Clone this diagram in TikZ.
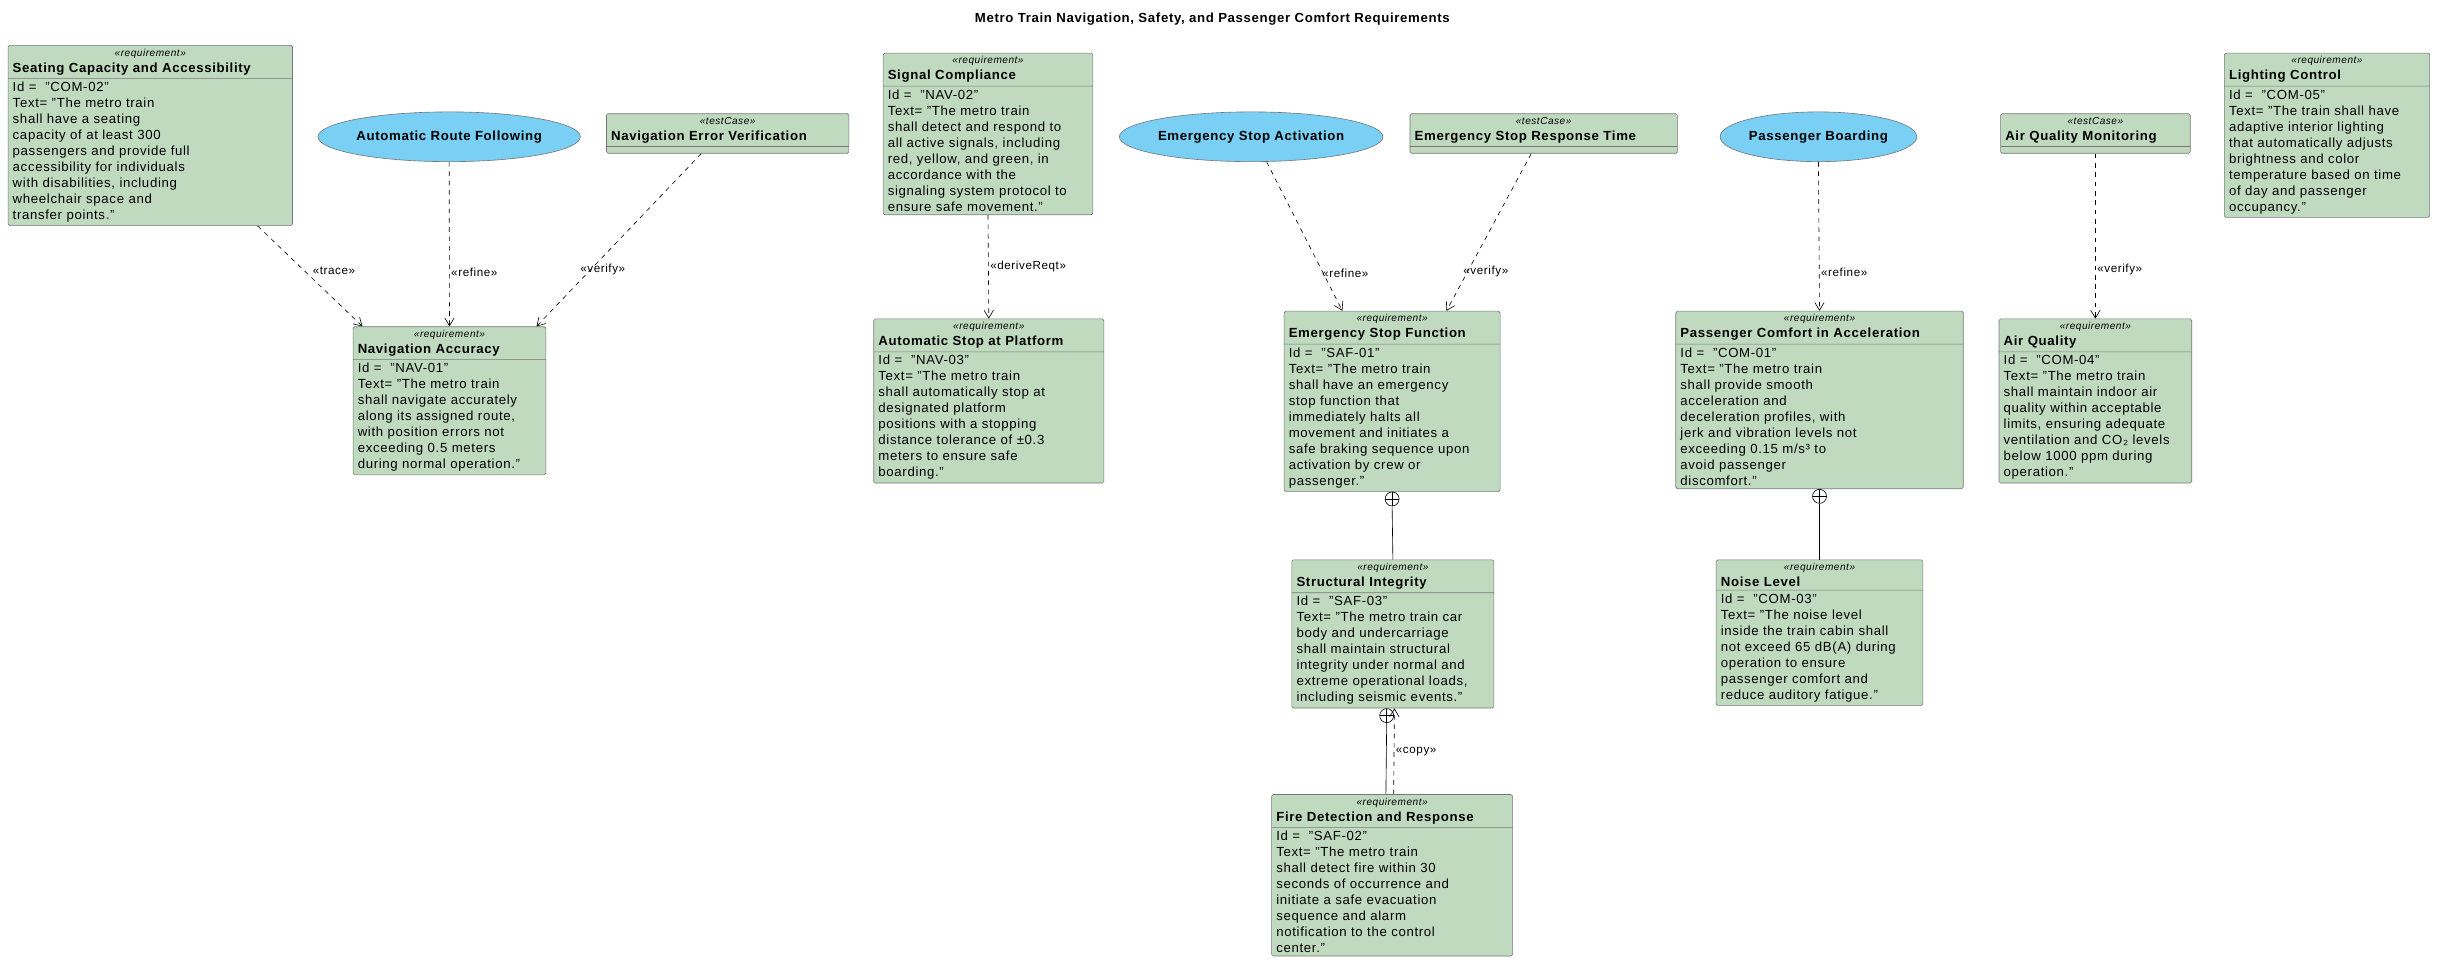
\documentclass[tikz,border=0pt]{standalone}
\usepackage{fontspec}
\setmainfont{Liberation Sans}[LetterSpace=5]
\usetikzlibrary{shapes.multipart,shapes.geometric,arrows.meta}
\definecolor{reqfill}{RGB}{192,218,192}
\definecolor{ucfill}{RGB}{122,207,245}
\definecolor{edge}{RGB}{120,120,120}
\newcommand{\stereo}[1]{{\fontsize{6.5}{7.5}\selectfont\itshape\guillemotleft#1\guillemotright}\par}
\newcommand{\rtitle}[1]{{\fontsize{8.5}{10}\selectfont\bfseries#1}}
\tikzset{
  req/.style={rectangle split, rectangle split parts=2, draw=edge, fill=reqfill,
    rounded corners=1pt, anchor=north west, inner xsep=3pt, inner ysep=2pt,
    text width=#1, font=\fontsize{8.5}{10.3}\selectfont, align=left},
  test/.style={req=#1, rectangle split ignore empty parts=false,
    rectangle split empty part height=9pt},
  uc/.style={ellipse, draw=edge, fill=ucfill, minimum width=#1, minimum height=32pt,
    inner sep=0pt, font=\fontsize{8.5}{10}\selectfont\bfseries},
  rel/.style={draw, dashed, dash pattern=on 3pt off 3pt, -{Straight Barb[length=5pt,width=6pt]}},
  lbl/.style={font=\fontsize{7.5}{9}\selectfont, right, inner sep=1pt},
  plus/.style={circle, draw, fill=white, minimum size=9pt, inner sep=0pt,
    path picture={\draw (path picture bounding box.north) -- (path picture bounding box.south)
      (path picture bounding box.west) -- (path picture bounding box.east);}}
}
\begin{document}
\begin{tikzpicture}[x=1pt, y=-1pt]
\useasboundingbox (0,0) rectangle (1568,626);
\node[font=\fontsize{8.5}{10}\selectfont\bfseries] (title) at (780,12) {Metro Train Navigation, Safety, and Passenger Comfort Requirements};

% navigation
\node[req=177pt] (seat) at (5,29) {\centering\stereo{requirement}\rtitle{Seating Capacity and Accessibility}
  \nodepart{two}Id = \ "COM-02"\\Text= "The metro train\\shall have a seating\\capacity of at least 300\\passengers and provide full\\accessibility for individuals\\with disabilities, including\\wheelchair space and\\transfer points."};
\node[uc=158pt] (route) at (289,88) {Automatic Route Following};
\node[test=150pt] (navver) at (390,73) {\centering\stereo{testCase}\rtitle{Navigation Error Verification}\nodepart{two}};
\node[req=118pt] (navacc) at (227,210) {\centering\stereo{requirement}\rtitle{Navigation Accuracy}
  \nodepart{two}Id = \ "NAV-01"\\Text= "The metro train\\shall navigate accurately\\along its assigned route,\\with position errors not\\exceeding 0.5 meters\\during normal operation."};
\node[req=129pt] (signal) at (568,34) {\centering\stereo{requirement}\rtitle{Signal Compliance}
  \nodepart{two}Id = \ "NAV-02"\\Text= "The metro train\\shall detect and respond to\\all active signals, including\\red, yellow, and green, in\\accordance with the\\signaling system protocol to\\ensure safe movement."};
\node[req=142pt] (autostop) at (562,205) {\centering\stereo{requirement}\rtitle{Automatic Stop at Platform}
  \nodepart{two}Id = \ "NAV-03"\\Text= "The metro train\\shall automatically stop at\\designated platform\\positions with a stopping\\distance tolerance of ±0.3\\meters to ensure safe\\boarding."};

% safety
\node[uc=158pt] (esact) at (805,88) {Emergency Stop Activation};
\node[test=166pt] (esresp) at (907,73) {\centering\stereo{testCase}\rtitle{Emergency Stop Response Time}\nodepart{two}};
\node[req=133pt] (esfunc) at (826,200) {\centering\stereo{requirement}\rtitle{Emergency Stop Function}
  \nodepart{two}Id = \ "SAF-01"\\Text= "The metro train\\shall have an emergency\\stop function that\\immediately halts all\\movement and initiates a\\safe braking sequence upon\\activation by crew or\\passenger."};
\node[req=124pt] (struct) at (831,360) {\centering\stereo{requirement}\rtitle{Structural Integrity}
  \nodepart{two}Id = \ "SAF-03"\\Text= "The metro train car\\body and undercarriage\\shall maintain structural\\integrity under normal and\\extreme operational loads,\\including seismic events."};
\node[req=149pt] (fire) at (818,511) {\centering\stereo{requirement}\rtitle{Fire Detection and Response}
  \nodepart{two}Id = \ "SAF-02"\\Text= "The metro train\\shall detect fire within 30\\seconds of occurrence and\\initiate a safe evacuation\\sequence and alarm\\notification to the control\\center."};

% comfort
\node[uc=125pt] (board) at (1170,88) {Passenger Boarding};
\node[test=116pt] (aqmon) at (1287,73) {\centering\stereo{testCase}\rtitle{Air Quality Monitoring}\nodepart{two}};
\node[req=179pt] (comfort) at (1078,200) {\centering\stereo{requirement}\rtitle{Passenger Comfort in Acceleration}
  \nodepart{two}Id = \ "COM-01"\\Text= "The metro train\\shall provide smooth\\acceleration and\\deceleration profiles, with\\jerk and vibration levels not\\exceeding 0.15 m/s³ to\\avoid passenger\\discomfort."};
\node[req=127pt] (noise) at (1104,360) {\centering\stereo{requirement}\rtitle{Noise Level}
  \nodepart{two}Id = \ "COM-03"\\Text= "The noise level\\inside the train cabin shall\\not exceed 65 dB(A) during\\operation to ensure\\passenger comfort and\\reduce auditory fatigue."};
\node[req=118pt] (airq) at (1286,205) {\centering\stereo{requirement}\rtitle{Air Quality}
  \nodepart{two}Id = \ "COM-04"\\Text= "The metro train\\shall maintain indoor air\\quality within acceptable\\limits, ensuring adequate\\ventilation and CO₂ levels\\below 1000 ppm during\\operation."};
\node[req=126pt] (light) at (1431,34) {\centering\stereo{requirement}\rtitle{Lighting Control}
  \nodepart{two}Id = \ "COM-05"\\Text= "The train shall have\\adaptive interior lighting\\that automatically adjusts\\brightness and color\\temperature based on time\\of day and passenger\\occupancy."};

% relations
\draw[rel] ([xshift=69pt]seat.south) -- node[lbl, pos=0.45, xshift=4pt] {«trace»} ([xshift=-56pt]navacc.north);
\draw[rel] (route.south) -- node[lbl, pos=0.67] {«refine»} (navacc.north);
\draw[rel] ([xshift=-17pt]navver.south) -- node[lbl, pos=0.67, xshift=-8pt] {«verify»} ([xshift=56pt]navacc.north);
\draw[rel] (signal.south) -- node[lbl, pos=0.5] {«deriveReqt»} (autostop.north);
\draw[rel] ([xshift=10pt]esact.south) -- node[lbl, pos=0.75, xshift=-2pt] {«refine»} ([xshift=-32pt]esfunc.north);
\draw[rel] ([xshift=-8pt]esresp.south) -- node[lbl, pos=0.75, xshift=-4pt] {«verify»} ([xshift=35pt]esfunc.north);
\draw[rel] (board.south) -- node[lbl, pos=0.74] {«refine»} (comfort.north);
\draw[rel] (aqmon.south) -- node[lbl, pos=0.70] {«verify»} (airq.north);

% containment
\node[plus, anchor=north] (pesf) at (esfunc.south) {};
\draw (pesf.south) -- (struct.north);
\node[plus, anchor=north] (pcomf) at (comfort.south) {};
\draw (pcomf.south) -- (noise.north);
\node[plus, anchor=north] (pstr) at ([xshift=-4pt]struct.south) {};
\draw (pstr.south) -- ([xshift=-4pt]fire.north);
\draw[rel] ([xshift=1pt]fire.north) -- node[lbl, pos=0.5] {«copy»} ([xshift=1pt]struct.south);
\end{tikzpicture}
\end{document}
